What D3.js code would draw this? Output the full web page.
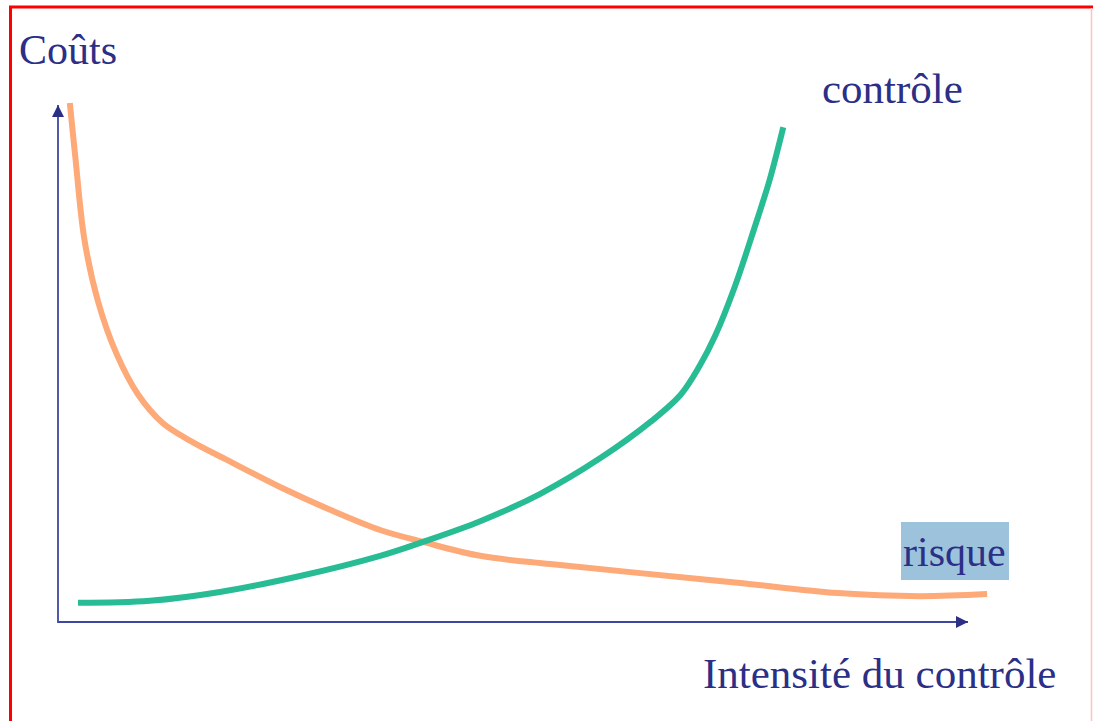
<!DOCTYPE html>
<html>
<head>
<meta charset="utf-8">
<script src="https://cdn.jsdelivr.net/npm/d3@7"></script>
<style>
  html, body { margin: 0; padding: 0; background: #fff; }
  svg { display: block; }
</style>
</head>
<body>
<svg id="chart" width="1093" height="721"></svg>
<script>
// Data (intensity of control 0-100, cost 0-100)
const risqueX = [1.3, 1.9, 2.9, 4.4, 6.4, 8.8, 11.5, 14.6, 18.4, 24.4, 29.9, 35.4, 40.1, 46.4, 54.1, 63.7, 74.7, 85.7, 94.7, 102.1];
const risqueY = [100.4, 90.0, 74.0, 62.0, 52.0, 44.0, 38.5, 35.0, 31.5, 26.1, 21.7, 17.8, 15.5, 12.8, 11.2, 9.5, 7.6, 5.6, 5.0, 5.4];
const controleX = [2.2, 10.1, 17.8, 26.6, 35.4, 40.1, 46.4, 53.0, 59.6, 65.1, 68.4, 70.5, 72.2, 74.4, 76.6, 78.2, 79.7];
const controleY = [3.7, 4.1, 5.8, 8.9, 12.8, 15.5, 19.5, 24.8, 31.7, 38.7, 43.9, 49.5, 55.3, 65.0, 76.6, 85.5, 95.7];
const labels = { y: "Coûts", x: "Intensité du contrôle", risque: "risque", controle: "contrôle" };

const svg = d3.select("#chart");
const navy = "#2b2f86";
const axisCol = "#3d47a3";

// frame
svg.append("line").attr("x1", 10.5).attr("y1", 7).attr("x2", 10.5).attr("y2", 721).attr("stroke", "#ff0000").attr("stroke-width", 3);
svg.append("line").attr("x1", 9).attr("y1", 7).attr("x2", 1093).attr("y2", 7).attr("stroke", "#ff0000").attr("stroke-width", 3);
svg.append("line").attr("x1", 1091.5).attr("y1", 8).attr("x2", 1091.5).attr("y2", 721).attr("stroke", "#ffc0c0").attr("stroke-width", 1.5);

const x = d3.scaleLinear().domain([0, 100]).range([58, 968]);
const y = d3.scaleLinear().domain([0, 100]).range([622, 105]);

const defs = svg.append("defs");
defs.append("marker").attr("id", "arr").attr("viewBox", "0 0 10 10")
  .attr("refX", 10).attr("refY", 5).attr("markerWidth", 13).attr("markerHeight", 12)
  .attr("markerUnits", "userSpaceOnUse").attr("orient", "auto")
  .append("path").attr("d", "M0,0 L10,5 L0,10 Z").attr("fill", navy);

// axes
svg.append("line").attr("x1", x(0)).attr("y1", y(0)).attr("x2", x(100)).attr("y2", y(0))
  .attr("stroke", axisCol).attr("stroke-width", 1.8).attr("marker-end", "url(#arr)");
svg.append("line").attr("x1", x(0)).attr("y1", y(0) + 1).attr("x2", x(0)).attr("y2", y(100))
  .attr("stroke", axisCol).attr("stroke-width", 1.8).attr("marker-end", "url(#arr)");

const line = d3.line().x(d => x(d[0])).y(d => y(d[1])).curve(d3.curveCatmullRom.alpha(0.5));

const risque = risqueX.map((v, i) => [v, risqueY[i]]);
const controle = controleX.map((v, i) => [v, controleY[i]]);

svg.append("path").datum(risque).attr("d", line).attr("fill", "none")
  .attr("stroke", "#fda978").attr("stroke-width", 6).attr("stroke-linejoin", "round");
svg.append("path").datum(controle).attr("d", line).attr("fill", "none")
  .attr("stroke", "#28bc94").attr("stroke-width", 6).attr("stroke-linejoin", "round");

// labels
const font = "'Liberation Serif', 'Times New Roman', serif";
svg.append("rect").attr("x", 901).attr("y", 522).attr("width", 108).attr("height", 58).attr("fill", "#9dc3dc");
svg.append("text").attr("x", 903).attr("y", 566).text(labels.risque)
  .attr("font-family", font).attr("font-size", 42).attr("fill", navy);
svg.append("text").attr("x", 19).attr("y", 64).text(labels.y)
  .attr("font-family", font).attr("font-size", 42).attr("fill", navy);
svg.append("text").attr("x", 822).attr("y", 103).text(labels.controle)
  .attr("font-family", font).attr("font-size", 43).attr("fill", navy);
svg.append("text").attr("x", 703).attr("y", 688).text(labels.x)
  .attr("font-family", font).attr("font-size", 43).attr("fill", navy);
</script>
</body>
</html>
